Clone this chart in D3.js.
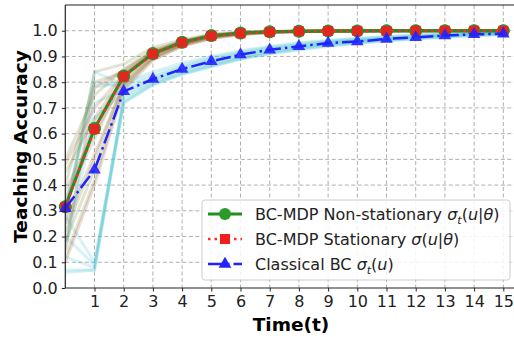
<!DOCTYPE html>
<html>
<head>
<meta charset="utf-8">
<script src="https://cdn.jsdelivr.net/npm/d3@7"></script>
<style>
  body { margin: 0; background: #fff; }
  svg { display: block; font-family: "DejaVu Sans", sans-serif; }
</style>
</head>
<body>
<div id="chart"></div>
<script>
// time steps and mean curves
const TIMES = [0, 1, 2, 3, 4, 5, 6, 7, 8, 9, 10, 11, 12, 13, 14, 15]
const NON_STATIONARY = [0.316, 0.62, 0.824, 0.911, 0.955, 0.981, 0.991, 0.996, 0.998, 0.999, 0.999, 1.0, 1.0, 1.0, 1.0, 1.0]
const STATIONARY = [0.314, 0.618, 0.822, 0.91, 0.954, 0.98, 0.99, 0.995, 0.998, 0.999, 0.999, 0.999, 1.0, 1.0, 1.0, 1.0]
const CLASSICAL = [0.31, 0.459, 0.764, 0.812, 0.851, 0.881, 0.907, 0.926, 0.939, 0.952, 0.958, 0.968, 0.974, 0.981, 0.986, 0.988]

// individual runs (faint bundles)
const CLASSICAL_RUNS = [
  [0.07, 0.07, 0.72, 0.79, 0.83, 0.86, 0.89, 0.91, 0.925, 0.94, 0.95, 0.96, 0.968, 0.975, 0.98, 0.984],
  [0.12, 0.08, 0.73, 0.795, 0.835, 0.865, 0.893, 0.913, 0.93, 0.944, 0.954, 0.963, 0.97, 0.977, 0.982, 0.986],
  [0.20, 0.09, 0.74, 0.80, 0.84, 0.87, 0.897, 0.918, 0.934, 0.947, 0.957, 0.966, 0.973, 0.979, 0.984, 0.988],
  [0.28, 0.10, 0.72, 0.79, 0.832, 0.862, 0.89, 0.912, 0.928, 0.942, 0.952, 0.962, 0.97, 0.976, 0.982, 0.986],
  [0.06, 0.07, 0.75, 0.805, 0.845, 0.875, 0.90, 0.92, 0.936, 0.949, 0.959, 0.968, 0.975, 0.981, 0.986, 0.989],
  [0.30, 0.80, 0.78, 0.82, 0.86, 0.89, 0.913, 0.932, 0.946, 0.958, 0.966, 0.974, 0.98, 0.985, 0.989, 0.992],
  [0.25, 0.84, 0.79, 0.83, 0.865, 0.895, 0.918, 0.936, 0.95, 0.961, 0.969, 0.977, 0.982, 0.987, 0.99, 0.993],
  [0.18, 0.72, 0.77, 0.815, 0.855, 0.885, 0.91, 0.929, 0.944, 0.955, 0.964, 0.972, 0.978, 0.984, 0.988, 0.991],
  [0.32, 0.78, 0.80, 0.84, 0.875, 0.90, 0.922, 0.94, 0.953, 0.963, 0.971, 0.978, 0.984, 0.988, 0.991, 0.994],
  [0.15, 0.66, 0.76, 0.81, 0.85, 0.88, 0.905, 0.925, 0.94, 0.952, 0.962, 0.97, 0.977, 0.982, 0.987, 0.99]
]
const NON_STATIONARY_RUNS = [
  [0.12, 0.42, 0.78, 0.89, 0.94, 0.97, 0.985, 0.993, 0.996, 0.998, 0.999, 1, 1, 1, 1, 1],
  [0.22, 0.50, 0.80, 0.90, 0.945, 0.975, 0.988, 0.994, 0.997, 0.998, 0.999, 1, 1, 1, 1, 1],
  [0.35, 0.58, 0.82, 0.91, 0.95, 0.978, 0.99, 0.995, 0.998, 0.999, 1, 1, 1, 1, 1, 1],
  [0.45, 0.66, 0.83, 0.915, 0.955, 0.98, 0.991, 0.996, 0.998, 0.999, 1, 1, 1, 1, 1, 1],
  [0.50, 0.75, 0.85, 0.925, 0.96, 0.984, 0.993, 0.997, 0.999, 1, 1, 1, 1, 1, 1, 1],
  [0.28, 0.84, 0.87, 0.935, 0.965, 0.987, 0.995, 0.998, 0.999, 1, 1, 1, 1, 1, 1, 1],
  [0.40, 0.80, 0.84, 0.92, 0.958, 0.982, 0.992, 0.996, 0.998, 0.999, 1, 1, 1, 1, 1, 1],
  [0.18, 0.46, 0.79, 0.895, 0.948, 0.976, 0.989, 0.995, 0.997, 0.999, 1, 1, 1, 1, 1, 1]
]
const STATIONARY_RUNS = [
  [0.10, 0.40, 0.77, 0.885, 0.94, 0.97, 0.985, 0.992, 0.996, 0.998, 0.999, 0.999, 1, 1, 1, 1],
  [0.25, 0.52, 0.79, 0.895, 0.945, 0.973, 0.987, 0.993, 0.997, 0.998, 0.999, 1, 1, 1, 1, 1],
  [0.38, 0.60, 0.81, 0.905, 0.95, 0.977, 0.989, 0.995, 0.997, 0.999, 0.999, 1, 1, 1, 1, 1],
  [0.48, 0.70, 0.83, 0.915, 0.955, 0.98, 0.99, 0.996, 0.998, 0.999, 1, 1, 1, 1, 1, 1],
  [0.15, 0.78, 0.845, 0.92, 0.96, 0.983, 0.992, 0.997, 0.998, 0.999, 1, 1, 1, 1, 1, 1],
  [0.32, 0.64, 0.82, 0.91, 0.952, 0.979, 0.99, 0.995, 0.998, 0.999, 1, 1, 1, 1, 1, 1]
]

const X_TICKS = [1, 2, 3, 4, 5, 6, 7, 8, 9, 10, 11, 12, 13, 14, 15]
const Y_TICKS = [0, 0.1, 0.2, 0.3, 0.4, 0.5, 0.6, 0.7, 0.8, 0.9, 1.0]

const WIDTH = 514
const HEIGHT = 337
const LEFT = 65.3
const TOP = 5
const BOTTOM = 288
const RIGHT = 515

const GREEN = '#1f8f1f'
const RED = '#ff2a2a'
const BLUE = '#2222ff'

const svg = d3.select('#chart').append('svg')
  .attr('width', WIDTH)
  .attr('height', HEIGHT)

const x = d3.scaleLinear().domain([0, 15.4]).range([LEFT, RIGHT])
const y = d3.scaleLinear().domain([0, 1.1]).range([BOTTOM, TOP])

svg.append('clipPath').attr('id', 'clip')
  .append('rect')
  .attr('x', LEFT).attr('y', TOP)
  .attr('width', RIGHT - LEFT).attr('height', BOTTOM - TOP)

// grid
const grid = svg.append('g')
grid.selectAll('.gx').data(X_TICKS).enter().append('line')
  .attr('x1', d => x(d)).attr('x2', d => x(d))
  .attr('y1', TOP).attr('y2', BOTTOM)
  .attr('stroke', '#b0b0b0').attr('stroke-width', 1)
  .attr('stroke-dasharray', '4,2.5')
grid.selectAll('.gy').data(Y_TICKS.slice(1)).enter().append('line')
  .attr('x1', LEFT).attr('x2', RIGHT)
  .attr('y1', d => y(d)).attr('y2', d => y(d))
  .attr('stroke', '#b0b0b0').attr('stroke-width', 1)
  .attr('stroke-dasharray', '4,2.5')

const line = d3.line()
  .x((d, i) => x(TIMES[i]))
  .y(d => y(d))

// faint bundles
const runs = svg.append('g').attr('clip-path', 'url(#clip)')
CLASSICAL_RUNS.forEach(r => {
  runs.append('path').datum(r)
    .attr('d', line).attr('fill', 'none')
    .attr('stroke', '#4fc3d0').attr('stroke-opacity', 0.22)
    .attr('stroke-width', 3)
})
NON_STATIONARY_RUNS.forEach(r => {
  runs.append('path').datum(r)
    .attr('d', line).attr('fill', 'none')
    .attr('stroke', '#6b7a23').attr('stroke-opacity', 0.2)
    .attr('stroke-width', 3)
})
STATIONARY_RUNS.forEach(r => {
  runs.append('path').datum(r)
    .attr('d', line).attr('fill', 'none')
    .attr('stroke', '#a0522d').attr('stroke-opacity', 0.2)
    .attr('stroke-width', 3)
})

// mean curves
const main = svg.append('g')

main.append('path').datum(NON_STATIONARY)
  .attr('d', line).attr('fill', 'none')
  .attr('stroke', GREEN).attr('stroke-width', 3)
main.selectAll('.ns').data(NON_STATIONARY).enter().append('circle')
  .attr('cx', (d, i) => x(TIMES[i])).attr('cy', d => y(d))
  .attr('r', 6).attr('fill', '#2a9a2a').attr('stroke', GREEN).attr('stroke-width', 1)

main.append('path').datum(STATIONARY)
  .attr('d', line).attr('fill', 'none')
  .attr('stroke', RED).attr('stroke-width', 2.5)
  .attr('stroke-dasharray', '2.5,4')
main.selectAll('.st').data(STATIONARY).enter().append('rect')
  .attr('x', (d, i) => x(TIMES[i]) - 5).attr('y', d => y(d) - 5)
  .attr('width', 10).attr('height', 10)
  .attr('fill', '#f21d1d').attr('opacity', 0.9)

main.append('path').datum(CLASSICAL)
  .attr('d', line).attr('fill', 'none')
  .attr('stroke', BLUE).attr('stroke-width', 2.5)
  .attr('stroke-dasharray', '15,4,2.5,4')
main.selectAll('.cl').data(CLASSICAL).enter().append('path')
  .attr('transform', (d, i) => `translate(${x(TIMES[i])},${y(d)})`)
  .attr('d', d3.symbol(d3.symbolTriangle, 70))
  .attr('fill', BLUE).attr('opacity', 0.9)

// axes
const xAxis = svg.append('g')
  .attr('transform', `translate(0,${BOTTOM})`)
  .call(d3.axisBottom(x).tickValues(X_TICKS).tickSize(3.5).tickPadding(4).tickFormat(d3.format('d')))
const yAxis = svg.append('g')
  .attr('transform', `translate(${LEFT},0)`)
  .call(d3.axisLeft(y).tickValues(Y_TICKS).tickSize(3.5).tickPadding(4).tickFormat(d3.format('.1f')))
;[xAxis, yAxis].forEach(a => {
  a.select('.domain').remove()
  a.selectAll('text').attr('font-size', 16).attr('fill', '#222').attr('font-family', 'DejaVu Sans')
  a.selectAll('line').attr('stroke', '#222')
})

// spines
svg.append('line').attr('x1', LEFT).attr('x2', LEFT).attr('y1', TOP).attr('y2', BOTTOM)
  .attr('stroke', '#222').attr('stroke-width', 1.2)
svg.append('line').attr('x1', LEFT).attr('x2', RIGHT).attr('y1', BOTTOM).attr('y2', BOTTOM)
  .attr('stroke', '#222').attr('stroke-width', 1.2)
svg.append('line').attr('x1', LEFT).attr('x2', RIGHT).attr('y1', TOP).attr('y2', TOP)
  .attr('stroke', '#222').attr('stroke-width', 1.2)

// axis labels
svg.append('text')
  .attr('x', 291).attr('y', 331)
  .attr('text-anchor', 'middle')
  .attr('font-size', 18.5).attr('font-weight', 'bold')
  .text('Time(t)')
svg.append('text')
  .attr('transform', `translate(26.5,${(TOP + BOTTOM) / 2}) rotate(-90)`)
  .attr('text-anchor', 'middle')
  .attr('font-size', 18.5).attr('font-weight', 'bold')
  .text('Teaching Accuracy')

// legend
const legend = svg.append('g').attr('transform', 'translate(202,200)')
legend.append('rect')
  .attr('width', 308).attr('height', 80).attr('rx', 3)
  .attr('fill', 'white').attr('fill-opacity', 0.85)
  .attr('stroke', '#cccccc')

const entries = [
  {name: 'BC-MDP Non-stationary ', sub: 't', arg: 'u|θ', color: GREEN, dash: null, marker: 'circle'},
  {name: 'BC-MDP Stationary ', sub: null, arg: 'u|θ', color: RED, dash: '2.5,4', marker: 'square'},
  {name: 'Classical BC ', sub: 't', arg: 'u', color: BLUE, dash: '15,4,2.5,4', marker: 'triangle'}
]
entries.forEach((e, i) => {
  const g = legend.append('g').attr('transform', `translate(0,${14 + i * 25})`)
  g.append('line').attr('x1', 6).attr('x2', 40).attr('y1', 0).attr('y2', 0)
    .attr('stroke', e.color).attr('stroke-width', e.marker === 'circle' ? 3 : 2.5)
    .attr('stroke-dasharray', e.dash)
  if (e.marker === 'circle') {
    g.append('circle').attr('cx', 23).attr('cy', 0).attr('r', 6).attr('fill', '#2a9a2a')
  } else if (e.marker === 'square') {
    g.append('rect').attr('x', 18).attr('y', -5).attr('width', 10).attr('height', 10).attr('fill', '#f21d1d')
  } else {
    g.append('path').attr('transform', 'translate(23,0)').attr('d', d3.symbol(d3.symbolTriangle, 70)).attr('fill', BLUE)
  }
  const t = g.append('text').attr('x', 53).attr('y', 6).attr('font-size', 16).attr('fill', '#222')
  t.append('tspan').text(e.name)
  t.append('tspan').attr('font-style', 'italic').text('σ')
  if (e.sub) {
    t.append('tspan').attr('font-style', 'italic').attr('font-size', 11).attr('dy', 3.5).text(e.sub)
    t.append('tspan').attr('dy', -3.5).text('(')
  } else {
    t.append('tspan').text('(')
  }
  const parts = e.arg.split('|')
  t.append('tspan').attr('font-style', 'italic').text(parts[0])
  if (parts.length > 1) {
    t.append('tspan').text('|')
    t.append('tspan').attr('font-style', 'italic').text(parts[1])
  }
  t.append('tspan').text(')')
})
</script>
</body>
</html>
